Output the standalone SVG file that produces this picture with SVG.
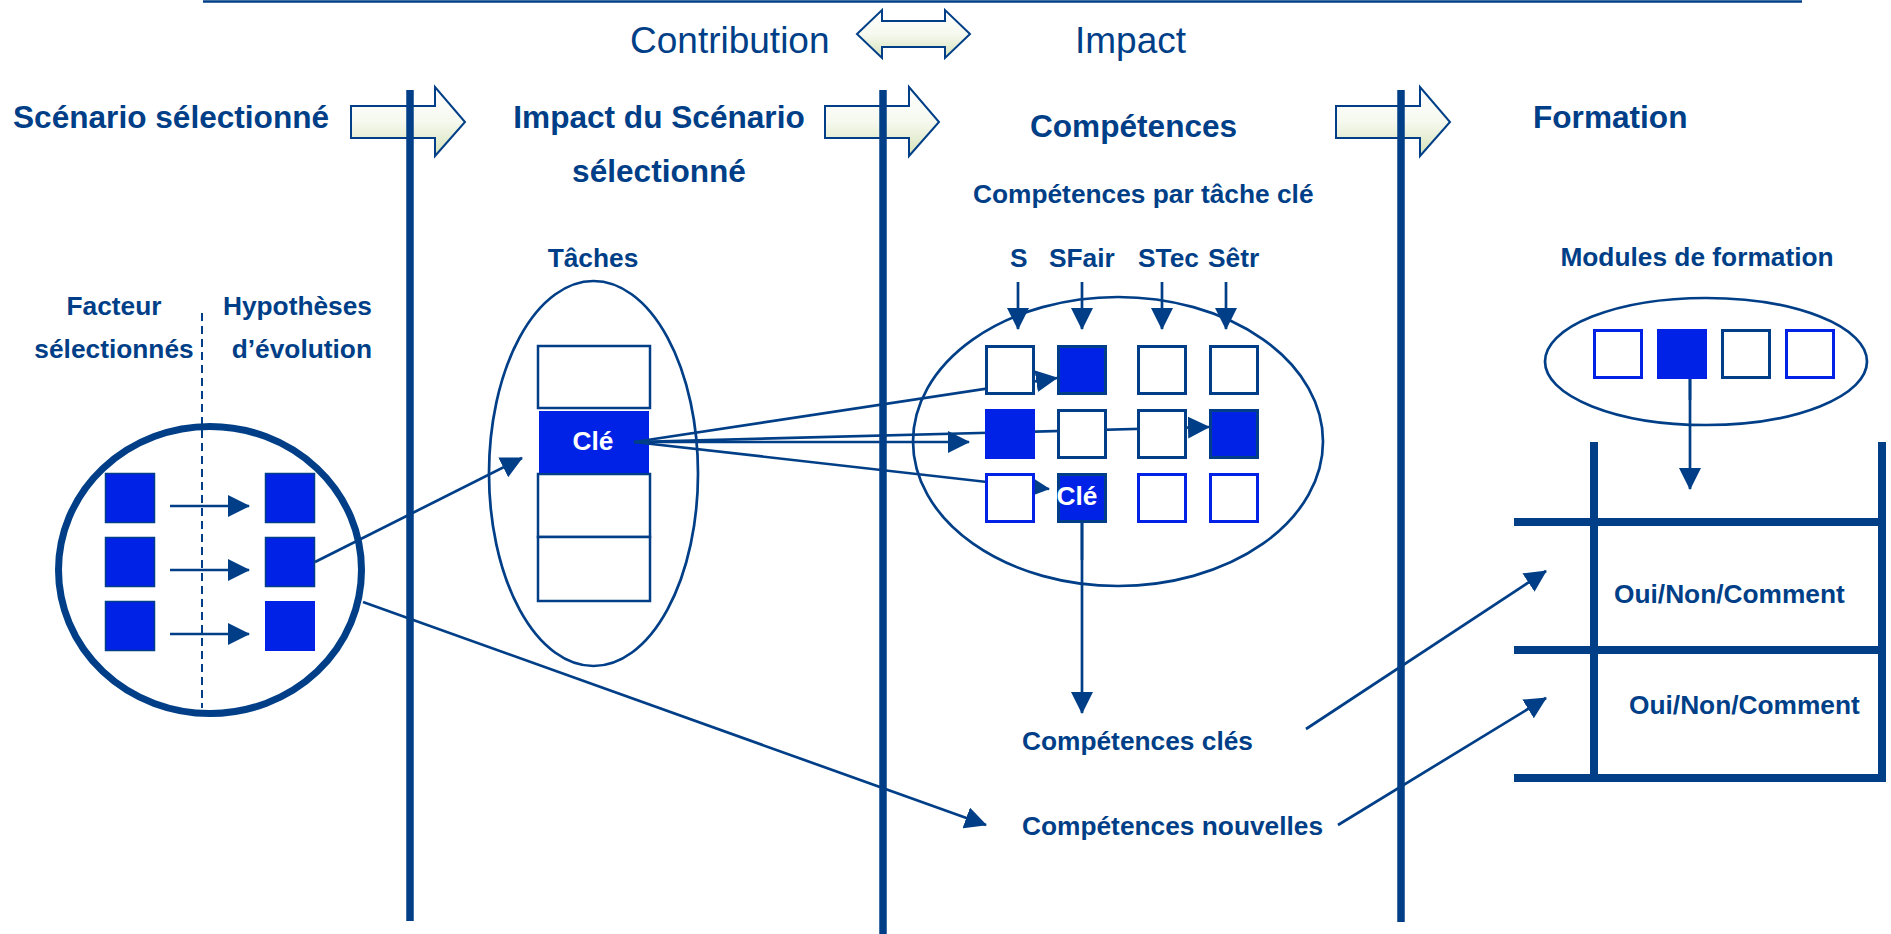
<svg xmlns="http://www.w3.org/2000/svg" width="1891" height="934" viewBox="0 0 1891 934">
<defs>
<linearGradient id="gArrow" x1="0" y1="0" x2="0" y2="1">
<stop offset="0" stop-color="#ffffff"/>
<stop offset="0.5" stop-color="#f6f9ef"/>
<stop offset="1" stop-color="#d5e2b8"/>
</linearGradient>
<marker id="ah" markerUnits="userSpaceOnUse" markerWidth="22" markerHeight="22" refX="21" refY="11" orient="auto">
<path d="M0,0 L22,11 L0,22 Z" fill="#003F87"/>
</marker>
<style>
.t{font-family:"Liberation Sans",Arial,sans-serif;fill:#003F87;}
.b{font-weight:bold;}
.h{font-size:31.6px;font-weight:bold;}
.s{font-size:26.3px;font-weight:bold;}
.w{fill:#ffffff;}
.big{font-size:37px;}
.bar{stroke:#003F87;stroke-width:7.5;fill:none;}
.blk{fill:url(#gArrow);stroke:#003F87;stroke-width:2;}
.ell{fill:none;stroke:#003F87;stroke-width:2.7;}
.con{stroke:#003F87;stroke-width:2.7;fill:none;}
.arr{stroke:#003F87;stroke-width:2.7;fill:none;marker-end:url(#ah);}
.sqF{fill:#0022E6;stroke:#003F87;stroke-width:1.5;}
.sqFn{fill:#0022E6;stroke:none;}
.sqD{fill:#ffffff;stroke:#003F87;stroke-width:3;}
.sqB{fill:#ffffff;stroke:#0022E6;stroke-width:3;}
.sqDF{fill:#0022E6;stroke:#003F87;stroke-width:3;}
.tab{stroke:#003F87;stroke-width:8;fill:none;}
</style>
</defs>

<!-- header -->
<g id="header">
<line x1="203" y1="1.5" x2="1802" y2="1.5" stroke="#003F87" stroke-width="2.5"/>
<text class="t big" x="630" y="53">Contribution</text>
<path class="blk" d="M857,34 L882,10 L882,21 L945,21 L945,10 L970,34 L945,58 L945,47 L882,47 L882,58 Z"/>
<text class="t big" x="1075" y="53">Impact</text>
</g>

<!-- block arrows -->
<g id="block-arrows">
<path class="blk" d="M351,106 L435,106 L435,87 L465,122 L435,156 L435,138 L351,138 Z"/>
<path class="blk" d="M825,106 L909,106 L909,87 L939,122 L909,156 L909,138 L825,138 Z"/>
<path class="blk" d="M1336,106 L1420,106 L1420,87 L1450,122 L1420,156 L1420,138 L1336,138 Z"/>
</g>

<!-- column separators -->
<g id="separators">
<line class="bar" x1="410" y1="90" x2="410" y2="921"/>
<line class="bar" x1="883" y1="90" x2="883" y2="934"/>
<line class="bar" x1="1401" y1="90" x2="1401" y2="922"/>
</g>

<!-- column titles -->
<g id="titles">
<text class="t h" x="13" y="128">Scénario sélectionné</text>
<text class="t h" x="659" y="128" text-anchor="middle">Impact du Scénario</text>
<text class="t h" x="659" y="182" text-anchor="middle">sélectionné</text>
<text class="t h" x="1030" y="137">Compétences</text>
<text class="t h" x="1533" y="128">Formation</text>
</g>

<!-- scenario node -->
<g id="scenario">
<text class="t s" x="114" y="315" text-anchor="middle">Facteur</text>
<text class="t s" x="114" y="358" text-anchor="middle">sélectionnés</text>
<text class="t s" x="372" y="315" text-anchor="end">Hypothèses</text>
<text class="t s" x="372" y="358" text-anchor="end">d’évolution</text>
<ellipse cx="210" cy="570" rx="151.5" ry="143.5" fill="none" stroke="#003F87" stroke-width="7"/>
<line x1="202" y1="313" x2="202" y2="708" stroke="#003F87" stroke-width="2" stroke-dasharray="8,5"/>
<rect class="sqF" x="105.5" y="473.5" width="49" height="49"/>
<rect class="sqF" x="105.5" y="537.5" width="49" height="49"/>
<rect class="sqF" x="105.5" y="601.5" width="49" height="49"/>
<rect class="sqF" x="265.5" y="473.5" width="49" height="49"/>
<rect class="sqF" x="265.5" y="537.5" width="49" height="49"/>
<rect class="sqFn" x="265" y="601" width="50" height="50"/>
<line class="arr" x1="170" y1="506" x2="249" y2="506"/>
<line class="arr" x1="170" y1="570" x2="249" y2="570"/>
<line class="arr" x1="170" y1="634" x2="249" y2="634"/>
</g>

<!-- tasks node -->
<g id="taches">
<text class="t s" x="593" y="267" text-anchor="middle">Tâches</text>
<ellipse class="ell" cx="593.5" cy="473.5" rx="104.5" ry="192.5"/>
<rect x="538" y="346" width="112" height="62" fill="#ffffff" stroke="#003F87" stroke-width="2.5"/>
<rect x="538" y="474" width="112" height="63" fill="#ffffff" stroke="#003F87" stroke-width="2.5"/>
<rect x="538" y="537" width="112" height="64" fill="#ffffff" stroke="#003F87" stroke-width="2.5"/>
<rect x="539" y="411" width="110" height="62" fill="#0022E6"/>
<text class="t s w" x="593" y="450" text-anchor="middle">Clé</text>
</g>

<!-- connectors -->
<g id="connectors">
<line class="arr" x1="315" y1="562" x2="522" y2="458"/>
<line class="arr" x1="363" y1="602" x2="986" y2="825"/>
<line class="arr" x1="634" y1="442" x2="1057" y2="378"/>
<line class="arr" x1="634" y1="442" x2="969" y2="442"/>
<line class="arr" x1="634" y1="442" x2="1209" y2="427"/>
<line class="arr" x1="634" y1="442" x2="1049" y2="489"/>
<line class="arr" x1="1018" y1="282" x2="1018" y2="329"/>
<line class="arr" x1="1082" y1="282" x2="1082" y2="329"/>
<line class="arr" x1="1162" y1="282" x2="1162" y2="329"/>
<line class="arr" x1="1226" y1="282" x2="1226" y2="329"/>
<line class="arr" x1="1082" y1="523" x2="1082" y2="713"/>
<line class="arr" x1="1306" y1="729" x2="1546" y2="571"/>
<line class="arr" x1="1338" y1="825" x2="1546" y2="698"/>
<line class="arr" x1="1690" y1="379" x2="1690" y2="489"/>
</g>

<!-- competences node -->
<g id="competences">
<text class="t s" x="973" y="203">Compétences par tâche clé</text>
<text class="t s" x="1010" y="267">S</text>
<text class="t s" x="1049" y="267">SFair</text>
<text class="t s" x="1138" y="267">STec</text>
<text class="t s" x="1208" y="267">Sêtr</text>
<ellipse class="ell" cx="1118" cy="441.5" rx="205" ry="144.5"/>
<rect class="sqD" x="986.5" y="346.5" width="47" height="47"/>
<rect class="sqDF" x="1058.5" y="346.5" width="47" height="47"/>
<rect class="sqD" x="1138.5" y="346.5" width="47" height="47"/>
<rect class="sqD" x="1210.5" y="346.5" width="47" height="47"/>
<rect class="sqFn" x="985" y="409" width="50" height="50"/>
<rect class="sqD" x="1058.5" y="410.5" width="47" height="47"/>
<rect class="sqD" x="1138.5" y="410.5" width="47" height="47"/>
<rect class="sqDF" x="1210.5" y="410.5" width="47" height="47"/>
<rect class="sqB" x="986.5" y="474.5" width="47" height="47"/>
<rect class="sqDF" x="1058.5" y="474.5" width="47" height="47"/>
<rect class="sqB" x="1138.5" y="474.5" width="47" height="47"/>
<rect class="sqB" x="1210.5" y="474.5" width="47" height="47"/>
<text class="t s w" x="1077" y="505" text-anchor="middle">Clé</text>
<line x1="1082" y1="523" x2="1082" y2="560" stroke="#003F87" stroke-width="2.7"/>
</g>

<!-- result labels -->
<g id="competences-cles">
<text class="t s" x="1022" y="750">Compétences clés</text>
</g>
<g id="competences-nouvelles">
<text class="t s" x="1022" y="835">Compétences nouvelles</text>
</g>

<!-- formation modules node -->
<g id="modules">
<text class="t s" x="1697" y="266" text-anchor="middle">Modules de formation</text>
<ellipse class="ell" cx="1706" cy="361.5" rx="161" ry="63.5"/>
<rect class="sqB" x="1594.5" y="330.5" width="47" height="47"/>
<rect class="sqFn" x="1657" y="329" width="50" height="50"/>
<rect class="sqD" x="1722.5" y="330.5" width="47" height="47"/>
<rect class="sqB" x="1786.5" y="330.5" width="47" height="47"/>
<line x1="1690" y1="379" x2="1690" y2="400" stroke="#003F87" stroke-width="2.7"/>
</g>

<!-- formation table node -->
<g id="table">
<line class="tab" x1="1594" y1="442" x2="1594" y2="782"/>
<line class="tab" x1="1882" y1="442" x2="1882" y2="778"/>
<line class="tab" x1="1514" y1="522" x2="1882" y2="522"/>
<line class="tab" x1="1514" y1="650" x2="1882" y2="650"/>
<line class="tab" x1="1514" y1="778" x2="1886" y2="778"/>
<text class="t s" x="1614" y="603">Oui/Non/Comment</text>
<text class="t s" x="1629" y="714">Oui/Non/Comment</text>
</g>
</svg>
